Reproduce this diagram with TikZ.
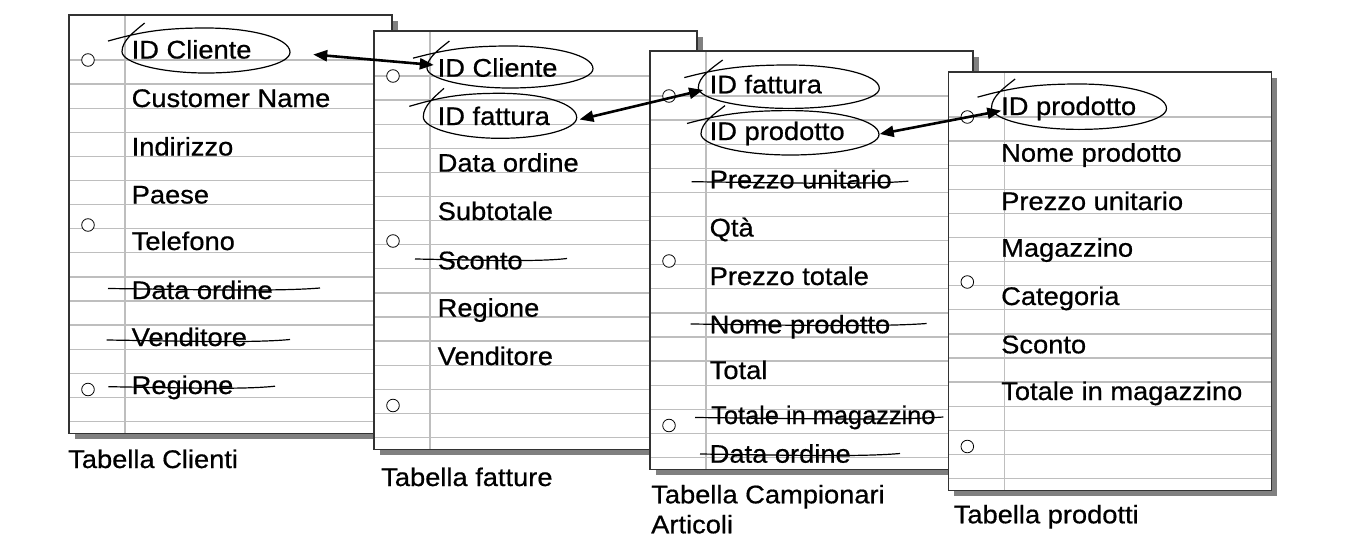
\documentclass[tikz,border=0pt]{standalone}
\usepackage{fontspec}
\setmainfont{Liberation Sans}[FakeStretch=1.07,FakeBold=0.6]
\usetikzlibrary{shapes.geometric,arrows.meta}
\definecolor{shadowgray}{RGB}{128,128,128}
\definecolor{rulegray}{RGB}{190,190,190}
\definecolor{bordergray}{RGB}{50,50,50}
\newcommand\papersheet[2]{%
  \fill[shadowfill] ({#1+5.5},{#2+5.5}) rectangle +(323,418.5);
  \fill[white] (#1,#2) rectangle +(323,418.5);
  \foreach \k in {0,...,15} \draw[ruleline] (#1,{#2+45+\k*24.1}) -- +(323,0);
  \draw[ruleline] ({#1+56},#2) -- +(0,418.5);
  \draw[sheetborder] (#1,#2) rectangle +(323,418.5);
  \foreach \h in {45,210,374.5} \draw[hole] ({#1+19},{#2+\h}) circle[radius=6.3];
}
\newcommand\handloop[5]{%
  \node[loopnode, minimum width={2*#4pt}, minimum height={2*#5pt}] (#1) at (#2,#3) {};
  \draw[loopline, shift={(#2,#3)}] ({-#4-14},{-0.42*#5})
    .. controls ({-0.8*#4},{-0.8*#5}) and ({-0.55*#4},{-#5}) .. (0,{-#5})
    .. controls ({0.55*#4},{-#5}) and (#4,{-0.55*#5}) .. (#4,{0.08*#5})
    .. controls (#4,{0.6*#5}) and ({0.55*#4},#5) .. (0,#5)
    .. controls ({-0.55*#4},#5) and (-#4,{0.55*#5}) .. (-#4,{0.05*#5})
    .. controls (-#4,{-0.45*#5}) and ({-0.85*#4},{-0.85*#5}) .. ({-0.73*#4},{-#5-5});
}
\newcommand\strikeout[3]{%
  \draw[strikeline] (#1,#3) .. controls ({#1+0.45*(#2-#1)},{#3+1.2}) and ({#1+0.8*(#2-#1)},{#3+3}) .. (#2,{#3-0.5});
}
\begin{document}
\begin{tikzpicture}[x=1pt,y=-1pt,
  shadowfill/.style={fill=shadowgray},
  ruleline/.style={draw=rulegray,line width=1.3pt},
  sheetborder/.style={draw=bordergray,line width=1.1pt},
  hole/.style={draw=black,line width=0.8pt,fill=white},
  item/.style={anchor=base west,inner sep=0pt,font=\fontsize{25.5}{30}\selectfont},
  loopnode/.style={ellipse,inner sep=0pt,draw=none},
  loopline/.style={draw=black,line width=1.2pt},
  strikeline/.style={draw=black,line width=1.2pt},
  arr/.style={draw=black,line width=2.6pt,{Triangle[length=14pt,width=11pt]}-{Triangle[length=14pt,width=11pt]}}]
\useasboundingbox (0,0) rectangle (1345,549);
\fill[white] (0,0) rectangle (1345,549);

% Sheet 1
\papersheet{69}{15}
\node[item] (c1) at (131.5,58.5) {ID Cliente};
\node[item] (c2) at (131.5,107) {Customer Name};
\node[item] (c3) at (131.5,155.5) {Indirizzo};
\node[item] (c4) at (131.5,203.5) {Paese};
\node[item] (c5) at (131.5,250) {Telefono};
\node[item] (c6) at (131.5,299) {Data ordine};
\node[item] (c7) at (131.5,346) {Venditore};
\node[item] (c8) at (131.5,394) {Regione};
\handloop{L1}{206}{50.5}{84}{22.5}
\strikeout{108}{320}{288.5}
\strikeout{106.7}{290}{340}
\strikeout{108.3}{275}{386.7}
\node[item] (cap1) at (68,468) {Tabella Clienti};

% Sheet 2
\papersheet{374}{31}
\node[item] (f1) at (437.5,76.7) {ID Cliente};
\node[item] (f2) at (437.5,125) {ID fattura};
\node[item] (f3) at (437.5,171.7) {Data ordine};
\node[item] (f4) at (437.5,220) {Subtotale};
\node[item] (f5) at (437.5,269.3) {Sconto};
\node[item] (f6) at (437.5,316.7) {Regione};
\node[item] (f7) at (437.5,365) {Venditore};
\handloop{L2}{510}{67}{83}{21}
\handloop{L3}{500}{115.8}{76.7}{22.5}
\strikeout{415}{567}{259}
\node[item] (cap2) at (381,486) {Tabella fatture};

% Sheet 3
\papersheet{650}{51}
\node[item] (a1) at (709.5,93.3) {ID fattura};
\node[item] (a2) at (709.5,140) {ID prodotto};
\node[item] (a3) at (709.5,188.3) {Prezzo unitario};
\node[item] (a4) at (709.5,236.5) {Qtà};
\node[item] (a5) at (709.5,285) {Prezzo totale};
\node[item] (a6) at (709.5,333.3) {Nome prodotto};
\node[item] (a7) at (709.5,379) {Total};
\node[item] (a8) at (711,424) {\scalebox{0.93}[1]{Totale in magazzino}};
\node[item] (a9) at (709.5,462.7) {Data ordine};
\handloop{L4}{788.8}{86.7}{90.5}{21.7}
\handloop{L5}{790}{132.8}{89}{22.2}
\strikeout{691.7}{908.3}{181.7}
\strikeout{690.7}{926.7}{324}
\strikeout{695}{943.3}{417.5}
\strikeout{700}{900}{454}
\node[item] (cap3) at (651,503.3) {Tabella Campionari};
\node[item] (cap3b) at (651,533.3) {Articoli};

% Sheet 4
\papersheet{948.3}{72}
\node[item] (p1) at (1001,115) {ID prodotto};
\node[item] (p2) at (1001,161.7) {Nome prodotto};
\node[item] (p3) at (1001,210) {Prezzo unitario};
\node[item] (p4) at (1001,256.7) {Magazzino};
\node[item] (p5) at (1001,305) {Categoria};
\node[item] (p6) at (1001,353.3) {Sconto};
\node[item] (p7) at (1001,400) {Totale in magazzino};
\handloop{L6}{1079}{106.7}{87.5}{22.7}
\node[item] (cap4) at (953.5,523.3) {Tabella prodotti};

% Connectors
\draw[arr] ([shift={(23,4)}]L1.east) -- ([shift={(7,-2)}]L2.west);
\draw[arr] ([shift={(2.6,3.7)}]L3.east) -- ([shift={(5,3.3)}]L4.west);
\draw[arr] ([shift={(0.5,1.2)}]L5.east) -- ([shift={(10,4)}]L6.west);
\end{tikzpicture}
\end{document}
